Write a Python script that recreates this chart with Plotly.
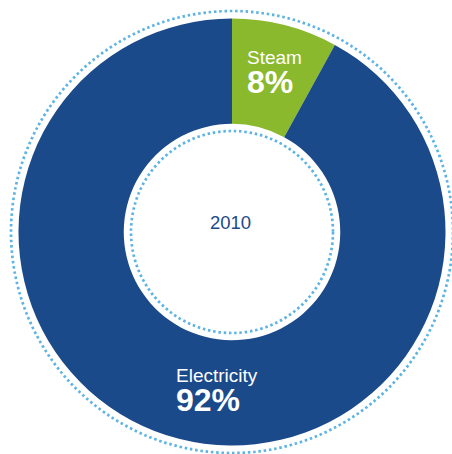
import plotly.graph_objects as go

labels = ["Steam", "Electricity"]
values = [8, 92]
colors = ["#8ab92d", "#1b4a8b"]
center_label = "2010"

W, H = 452, 454
cx, cy = 232, 232
R = 213.5
hole = 0.507

def px(x):
    return x / W

def py(y):
    return 1 - y / H

fig = go.Figure(go.Pie(
    labels=labels, values=values, hole=hole, sort=False, direction="clockwise",
    rotation=0, marker=dict(colors=colors, line=dict(width=0)),
    textinfo="none", hoverinfo="label+percent", showlegend=False,
    domain=dict(x=[px(cx - R), px(cx + R)], y=[py(cy + R), py(cy - R)]),
))

dot = "#5cb3e4"
shapes = []
for r in (221, 101):
    shapes.append(dict(type="circle", xref="paper", yref="paper",
                       x0=px(cx - r), x1=px(cx + r), y0=py(cy + r), y1=py(cy - r),
                       line=dict(color=dot, width=2.7, dash="2.5px,2.8px")))

font = "Liberation Sans, Arial, sans-serif"
total = sum(values)

def label_text(name, val):
    pct = round(val * 100 / total)
    return ("<span style='font-size:19px'>%s</span><br>"
            "<b><span style='font-size:32px'>%d%%</span></b>" % (name, pct))

ann = [
    dict(x=px(245), y=py(74), text=label_text(labels[0], values[0])),
    dict(x=px(174), y=py(391), text=label_text(labels[1], values[1])),
]
for a in ann:
    a.update(xref="paper", yref="paper", xanchor="left", yanchor="middle", align="left",
             showarrow=False, font=dict(size=22, color="white", family=font))
ann.append(dict(x=px(231), y=py(223), xref="paper", yref="paper", showarrow=False,
                text=center_label, font=dict(size=18.5, color="#1b4a8b", family=font),
                xanchor="center", yanchor="middle"))

fig.update_layout(width=W, height=H, margin=dict(l=0, r=0, t=0, b=0),
                  paper_bgcolor="white", plot_bgcolor="white",
                  shapes=shapes, annotations=ann)
fig.write_html("out.html", config={"displayModeBar": False},
               post_script="document.body.style.margin='0';document.body.style.overflow='hidden';")
